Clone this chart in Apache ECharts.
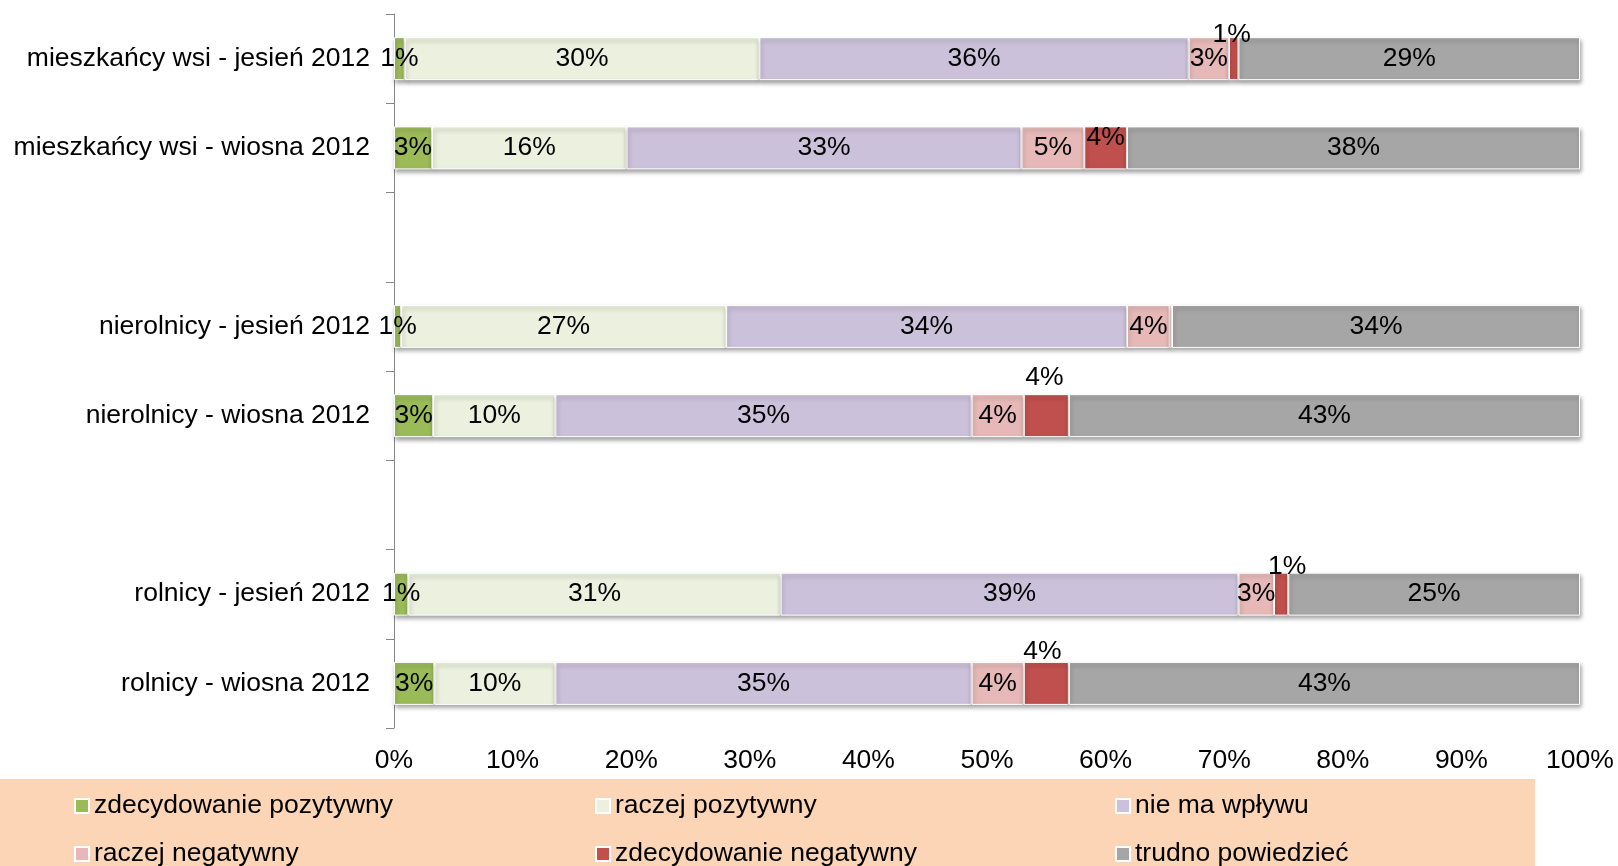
<!DOCTYPE html>
<html>
<head>
<meta charset="utf-8">
<script src="https://cdn.jsdelivr.net/npm/echarts@6/dist/echarts.min.js"></script>
<style>
html,body{margin:0;padding:0;background:#fff;}
#chart{width:1618px;height:866px;}
</style>
</head>
<body>
<div id="chart"></div>
<script>
// Categories, top to bottom (blank rows are spacers)
var categories = [
  'mieszkańcy wsi - jesień 2012',
  'mieszkańcy wsi - wiosna 2012',
  '',
  'nierolnicy - jesień 2012',
  'nierolnicy - wiosna 2012',
  ' ',
  'rolnicy - jesień 2012',
  'rolnicy - wiosna 2012'
];
var seriesNames = ['zdecydowanie pozytywny','raczej pozytywny','nie ma wpływu','raczej negatywny','zdecydowanie negatywny','trudno powiedzieć'];
var zdecydowaniePozytywny = [0.9, 3.2, null, 0.6, 3.3, null, 1.2, 3.4];
var raczejPozytywny       = [29.9, 16.4, null, 27.4, 10.3, null, 31.4, 10.2];
var nieMaWplywu           = [36.2, 33.3, null, 33.8, 35.1, null, 38.6, 35.1];
var raczejNegatywny       = [3.4, 5.3, null, 3.6, 4.4, null, 3.0, 4.4];
var zdecydowanieNegatywny = [0.8, 3.6, null, 0.2, 3.8, null, 1.2, 3.8];
var trudnoPowiedziec      = [28.8, 38.2, null, 34.4, 43.1, null, 24.6, 43.1];
var xTicks = [0, 10, 20, 30, 40, 50, 60, 70, 80, 90, 100];

// styling
var colors = ['#9BBB59','#EBF1DE','#CCC1DA','#E6B9B8','#C0504D','#A6A6A6'];
var labelOffsets = { 4: { 0: [-2,-24], 1: [0,-10], 4: [-2,-38], 6: [6,-27], 7: [-4,-32] } };
var FONT = '"Liberation Sans", Arial, sans-serif';
var FS = 26.5;

var allValues = [zdecydowaniePozytywny, raczejPozytywny, nieMaWplywu, raczejNegatywny, zdecydowanieNegatywny, trudnoPowiedziec];

var series = allValues.map(function(vals, si){
  return {
    name: seriesNames[si],
    type: 'bar',
    stack: 'total',
    barWidth: 43,
    itemStyle: {
      color: colors[si],
      borderColor: '#ffffff',
      borderWidth: 1,
      shadowColor: 'rgba(0,0,0,0.35)',
      shadowBlur: 4,
      shadowOffsetX: 1,
      shadowOffsetY: 3
    },
    label: {
      show: true,
      position: 'inside',
      color: '#000',
      fontFamily: FONT,
      fontSize: FS,
      formatter: function(p){
        if (p.value == null || p.value < 0.5) return '';
        return Math.round(p.value) + '%';
      }
    },
    data: vals.map(function(v, ci){
      var off = labelOffsets[si] && labelOffsets[si][ci];
      if (off) return { value: v, label: { offset: off } };
      return v;
    })
  };
});

var legendPos = [[74,792],[595,792],[1115,792],[74,840],[595,840],[1115,840]];
var legends = seriesNames.map(function(n, i){
  return {
    data: [n],
    left: legendPos[i][0],
    top: legendPos[i][1],
    orient: 'horizontal',
    padding: 0,
    icon: 'rect',
    itemWidth: 14,
    itemHeight: 14,
    selectedMode: false,
    textStyle: { color: '#000', fontFamily: FONT, fontSize: FS, lineHeight: 28 }
  };
});

var chart = echarts.init(document.getElementById('chart'), null, {renderer: 'canvas'});
chart.setOption({
  animation: false,
  backgroundColor: '#ffffff',
  graphic: [{
    type: 'rect',
    z: -10,
    shape: { x: 0, y: 779, width: 1535, height: 87 },
    style: { fill: '#FBD5B5' }
  }],
  grid: { left: 394, right: 38, top: 14, bottom: 138, containLabel: false },
  legend: legends,
  xAxis: {
    type: 'value',
    min: 0,
    max: 100,
    interval: 10,
    axisLine: { show: false },
    axisTick: { show: false },
    splitLine: { show: false },
    axisLabel: {
      color: '#000',
      fontFamily: FONT,
      fontSize: FS,
      margin: 19,
      formatter: function(v){ return xTicks.indexOf(v) >= 0 ? v + '%' : ''; }
    }
  },
  yAxis: {
    type: 'category',
    inverse: true,
    data: categories,
    axisLine: { show: true, lineStyle: { color: '#868686', width: 1 } },
    axisTick: { show: true, length: 8, lineStyle: { color: '#868686' } },
    axisLabel: { color: '#000', fontFamily: FONT, fontSize: FS, margin: 24 }
  },
  series: series
});
</script>
</body>
</html>
